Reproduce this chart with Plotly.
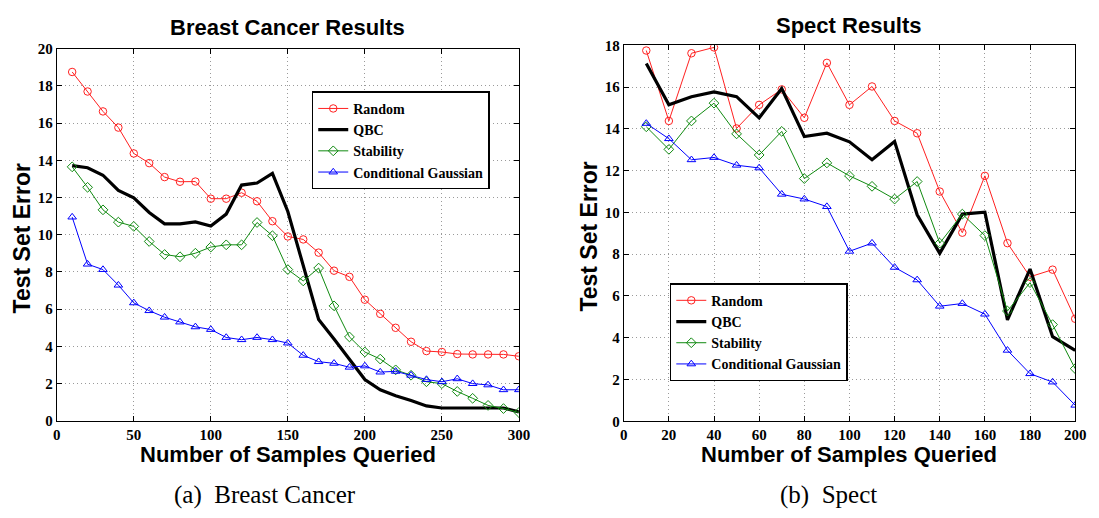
import plotly.graph_objects as go

# ---------------- data ----------------
bc_x = list(range(10, 301, 10))
bc_random = [18.75, 17.7, 16.63, 15.76, 14.37, 13.85, 13.1, 12.85, 12.86, 11.94,
             11.94, 12.26, 11.8, 10.73, 9.91, 9.75, 9.04, 8.07, 7.74, 6.51,
             5.75, 5.0, 4.25, 3.75, 3.70, 3.59, 3.57, 3.57, 3.57, 3.47]
bc_qbc = [13.72, 13.6, 13.2, 12.38, 11.98, 11.2, 10.59, 10.59, 10.69, 10.47,
          11.11, 12.67, 12.78, 13.3, 11.25, 8.4, 5.45, 4.4, 3.3, 2.22,
          1.67, 1.35, 1.09, 0.8, 0.69, 0.69, 0.69, 0.69, 0.69, 0.48]
bc_stab = [13.65, 12.55, 11.34, 10.68, 10.45, 9.64, 8.94, 8.82, 9.01, 9.34,
           9.46, 9.46, 10.66, 9.95, 8.13, 7.52, 8.21, 6.18, 4.51, 3.70,
           3.32, 2.74, 2.45, 2.1, 2.0, 1.58, 1.21, 0.83, 0.66, 0.45]
bc_cg = [10.95, 8.42, 8.13, 7.29, 6.34, 5.92, 5.57, 5.31, 5.05, 4.91,
         4.48, 4.36, 4.48, 4.36, 4.18, 3.52, 3.18, 3.09, 2.88, 2.95,
         2.62, 2.66, 2.45, 2.22, 2.1, 2.26, 2.0, 1.93, 1.67, 1.67]

sp_x = list(range(10, 201, 10))
sp_random = [17.75, 14.38, 17.62, 17.9, 14.02, 15.15, 15.89, 14.53, 17.16, 15.15,
             16.03, 14.38, 13.79, 11.0, 9.03, 11.75, 8.53, 6.92, 7.26, 4.91]
sp_qbc = [17.13, 15.15, 15.54, 15.77, 15.54, 14.53, 15.93, 13.63, 13.79, 13.38,
          12.52, 13.4, 9.89, 8.04, 9.92, 10.01, 4.86, 7.29, 4.05, 3.4]
sp_stab = [14.1, 13.02, 14.38, 15.23, 13.76, 12.75, 13.88, 11.62, 12.37, 11.75,
           11.25, 10.64, 11.48, 8.53, 9.92, 8.89, 5.28, 6.64, 4.63, 2.52]
sp_cg = [14.26, 13.53, 12.52, 12.63, 12.26, 12.13, 10.87, 10.64, 10.28, 8.14,
         8.53, 7.37, 6.77, 5.51, 5.64, 5.13, 3.4, 2.28, 1.88, 0.77]

series_names = ["Random", "QBC", "Stability", "Conditional Gaussian"]
bc_ticks_x = [0, 50, 100, 150, 200, 250, 300]
bc_ticks_y = [0, 2, 4, 6, 8, 10, 12, 14, 16, 18, 20]
sp_ticks_x = [0, 20, 40, 60, 80, 100, 120, 140, 160, 180, 200]
sp_ticks_y = [0, 2, 4, 6, 8, 10, 12, 14, 16, 18]

W, H = 1099, 518

styles = [
    dict(color="#ff2020", width=1, symbol="circle-open", size=7.5, mode="lines+markers"),
    dict(color="#000000", width=3.2, symbol=None, size=0, mode="lines"),
    dict(color="#108a10", width=1, symbol="diamond-open", size=7.5, mode="lines+markers"),
    dict(color="#0000ff", width=1, symbol="triangle-up-open", size=7.5, mode="lines+markers"),
]

fig = go.Figure()

def add_set(xs, ys_list, xa, ya, legend):
    for name, ys, st in zip(series_names, ys_list, styles):
        kw = dict(x=xs, y=ys, name=name, mode=st["mode"], xaxis=xa, yaxis=ya,
                  legend=legend, line=dict(color=st["color"], width=st["width"]))
        if st["symbol"]:
            kw["marker"] = dict(symbol=st["symbol"], size=st["size"],
                                line=dict(color=st["color"], width=1))
        fig.add_trace(go.Scatter(**kw))

add_set(bc_x, [bc_random, bc_qbc, bc_stab, bc_cg], "x", "y", "legend")
add_set(sp_x, [sp_random, sp_qbc, sp_stab, sp_cg], "x2", "y2", "legend2")

tickfont = dict(family="Liberation Serif", size=15, color="black", weight="bold")
def ax(dom, rng, ticks, anchor):
    return dict(domain=dom, range=rng, tickvals=ticks, ticktext=[str(t) for t in ticks],
                showline=True, linecolor="black", linewidth=1, mirror="ticks",
                ticks="inside", ticklen=5, tickcolor="black", tickwidth=1,
                showgrid=True, gridcolor="#9a9a9a", griddash="1px,3px", gridwidth=1,
                zeroline=False, tickfont=tickfont, anchor=anchor, fixedrange=True)

L = (53.5, 522.0, 42.0, 426.0)
R = (628.3, 1086.0, 38.5, 426.5)
def xd(a, b): return [a / W, b / W]
def yd(t, b): return [(H - b) / H, (H - t) / H]

legfont = dict(family="Liberation Serif", size=14, color="black", weight="bold")
fig.update_layout(
    width=W, height=H, margin=dict(l=0, r=0, t=0, b=0),
    paper_bgcolor="white", plot_bgcolor="white",
    xaxis=ax(xd(L[0], L[1]), [0, 300], bc_ticks_x, "y"),
    yaxis=ax(yd(L[2], L[3]), [0, 20], bc_ticks_y, "x"),
    xaxis2=ax(xd(R[0], R[1]), [0, 200], sp_ticks_x, "y2"),
    yaxis2=ax(yd(R[2], R[3]), [0, 18], sp_ticks_y, "x2"),
    legend=dict(x=312 / W, y=(H - 86) / H, xanchor="left", yanchor="top",
                bordercolor="black", borderwidth=1.5, bgcolor="white",
                font=legfont, itemwidth=30, tracegroupgap=0),
    legend2=dict(x=675 / W, y=(H - 284) / H, xanchor="left", yanchor="top",
                 bordercolor="black", borderwidth=1.5, bgcolor="white",
                 font=legfont, itemwidth=30, tracegroupgap=0),
    showlegend=True,
)

titlefont = dict(family="Liberation Sans", size=22, color="black")
ylabfont = dict(family="Liberation Sans", size=23, color="black")
ann = []
def A(text, x, y, font, angle=0):
    ann.append(dict(text=text, x=x / W, y=(H - y) / H, xref="paper", yref="paper",
                    showarrow=False, font=font, textangle=angle,
                    xanchor="center", yanchor="middle"))

A("<b>Breast Cancer Results</b>", (L[0] + L[1]) / 2, 20, titlefont)
A("<b>Spect Results</b>", (R[0] + R[1]) / 2, 18, titlefont)
A("<b>Number of Samples Queried</b>", (L[0] + L[1]) / 2, 461, titlefont)
A("<b>Number of Samples Queried</b>", (R[0] + R[1]) / 2, 461, titlefont)
A("<b>Test Set Error</b>", 18, 238, ylabfont, -90)
A("<b>Test Set Error</b>", 593, 236, ylabfont, -90)
capfont = dict(family="Liberation Serif", size=25, color="black")
A("(a)  Breast Cancer", 265, 503, capfont)
A("(b)  Spect", 836, 503, capfont)
fig.update_layout(annotations=ann)

fig.write_html("out.html")
